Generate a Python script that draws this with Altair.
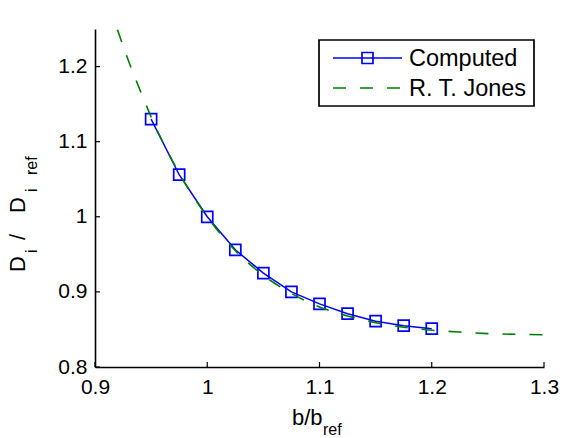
import altair as alt
import pandas as pd

# ---- data ----
b_computed = [0.95, 0.975, 1.0, 1.025, 1.05, 1.075, 1.1, 1.125, 1.15, 1.175, 1.2]
d_computed = [1.130, 1.056, 1.000, 0.956, 0.925, 0.900, 0.884, 0.871, 0.861, 0.855, 0.851]

b_jones = [0.92, 0.93, 0.94, 0.95, 0.975, 1.0, 1.025, 1.05, 1.075, 1.1, 1.125,
           1.15, 1.175, 1.2, 1.225, 1.25, 1.275, 1.3]
d_jones = [1.249, 1.207, 1.169, 1.133, 1.058, 1.0, 0.955, 0.922, 0.898, 0.880, 0.868,
           0.859, 0.853, 0.849, 0.8465, 0.8445, 0.8435, 0.843]

x_ticks = [0.9, 1.0, 1.1, 1.2, 1.3]
y_ticks = [0.8, 0.9, 1.0, 1.1, 1.2]
series_names = ["Computed", "R. T. Jones"]

BLUE = "#0000ff"
GREEN = "#008000"
FONT = "Liberation Sans"
W, H = 449, 338

df_c = pd.DataFrame({"b": b_computed, "d": d_computed})
df_j = pd.DataFrame({"b": b_jones, "d": d_jones})

xs = alt.Scale(domain=[0.9, 1.3], nice=False, zero=False)
ys = alt.Scale(domain=[0.8, 1.25], nice=False, zero=False)

x_enc = alt.X("b:Q", scale=xs, axis=alt.Axis(values=x_ticks, format="~g", title=None,
                                             grid=False, ticks=False, labelPadding=9,
                                             labelFontSize=21, labelFont=FONT,
                                             labelColor="black", domainColor="black",
                                             domainWidth=1.6, labelFlush=False))
y_enc = alt.Y("d:Q", scale=ys, axis=alt.Axis(values=y_ticks, format="~g", title=None,
                                             grid=False, ticks=False, labelPadding=8,
                                             labelFontSize=21, labelFont=FONT,
                                             labelColor="black", domainColor="black",
                                             domainWidth=1.6, labelFlush=False))

line_c = alt.Chart(df_c).mark_line(color=BLUE, strokeWidth=1.5).encode(x=x_enc, y=y_enc)
pts_c = alt.Chart(df_c).mark_point(shape="square", size=121, filled=False, color=BLUE,
                                   strokeWidth=1.7, opacity=1).encode(x="b:Q", y="d:Q")
line_j = alt.Chart(df_j).mark_line(color=GREEN, strokeWidth=1.6, strokeDash=[13, 14],
                                   interpolate="monotone", clip=True).encode(x="b:Q", y="d:Q")

xt = alt.Chart(pd.DataFrame({"b": x_ticks})).mark_rule(color="black", strokeWidth=1.2).encode(
    x="b:Q", y=alt.value(H), y2=alt.value(H - 5))
yt = alt.Chart(pd.DataFrame({"d": y_ticks})).mark_rule(color="black", strokeWidth=1.2).encode(
    y="d:Q", x=alt.value(0), x2=alt.value(5))

one = pd.DataFrame({"k": [0]})

# legend
leg_box = alt.Chart(one).mark_rect(fill="white", stroke="black", strokeWidth=1.7).encode(
    x=alt.value(224), x2=alt.value(439), y=alt.value(11), y2=alt.value(77))
leg_l1 = alt.Chart(one).mark_rule(color=BLUE, strokeWidth=1.5).encode(
    x=alt.value(238), x2=alt.value(307), y=alt.value(29))
leg_p1 = alt.Chart(one).mark_point(shape="square", size=121, filled=False, color=BLUE,
                                   strokeWidth=1.7, opacity=1).encode(
    x=alt.value(272.5), y=alt.value(29))
leg_l2 = alt.Chart(one).mark_rule(color=GREEN, strokeWidth=1.6, strokeDash=[13, 14]).encode(
    x=alt.value(238), x2=alt.value(307), y=alt.value(59))
leg_t1 = alt.Chart(one).mark_text(align="left", baseline="middle", fontSize=23.5, font=FONT,
                                  color="black", text=series_names[0]).encode(
    x=alt.value(314), y=alt.value(30))
leg_t2 = alt.Chart(one).mark_text(align="left", baseline="middle", fontSize=23.5, font=FONT,
                                  color="black", text=series_names[1]).encode(
    x=alt.value(314), y=alt.value(60))

# axis titles with subscripts
def txt(s, x, y, size, angle=0):
    kw = dict(align="left", baseline="alphabetic", fontSize=size, font=FONT,
              color="black", text=s)
    if angle:
        kw["angle"] = angle
    return alt.Chart(one).mark_text(**kw).encode(x=alt.value(x), y=alt.value(y))

xtitle = [txt("b/b", 197, 396, 22), txt("ref", 228, 406, 16)]
ytitle = [txt("D", -70, 243, 22, 270), txt("i", -58, 224, 16, 270),
          txt("/", -70, 211, 22, 270), txt("D", -70, 184, 22, 270),
          txt("i", -58, 163, 16, 270), txt("ref", -58, 146, 16, 270)]

chart = alt.layer(line_c, pts_c, line_j, xt, yt, leg_box, leg_l1, leg_p1, leg_l2,
                  leg_t1, leg_t2, *xtitle, *ytitle).properties(
    width=W, height=H, autosize=alt.AutoSizeParams(type="none"),
    padding={"left": 95, "top": 29, "right": 19, "bottom": 71},
    background="white",
).configure_view(stroke=None)

chart.save("out.html", embed_options={"renderer": "svg", "actions": False})
